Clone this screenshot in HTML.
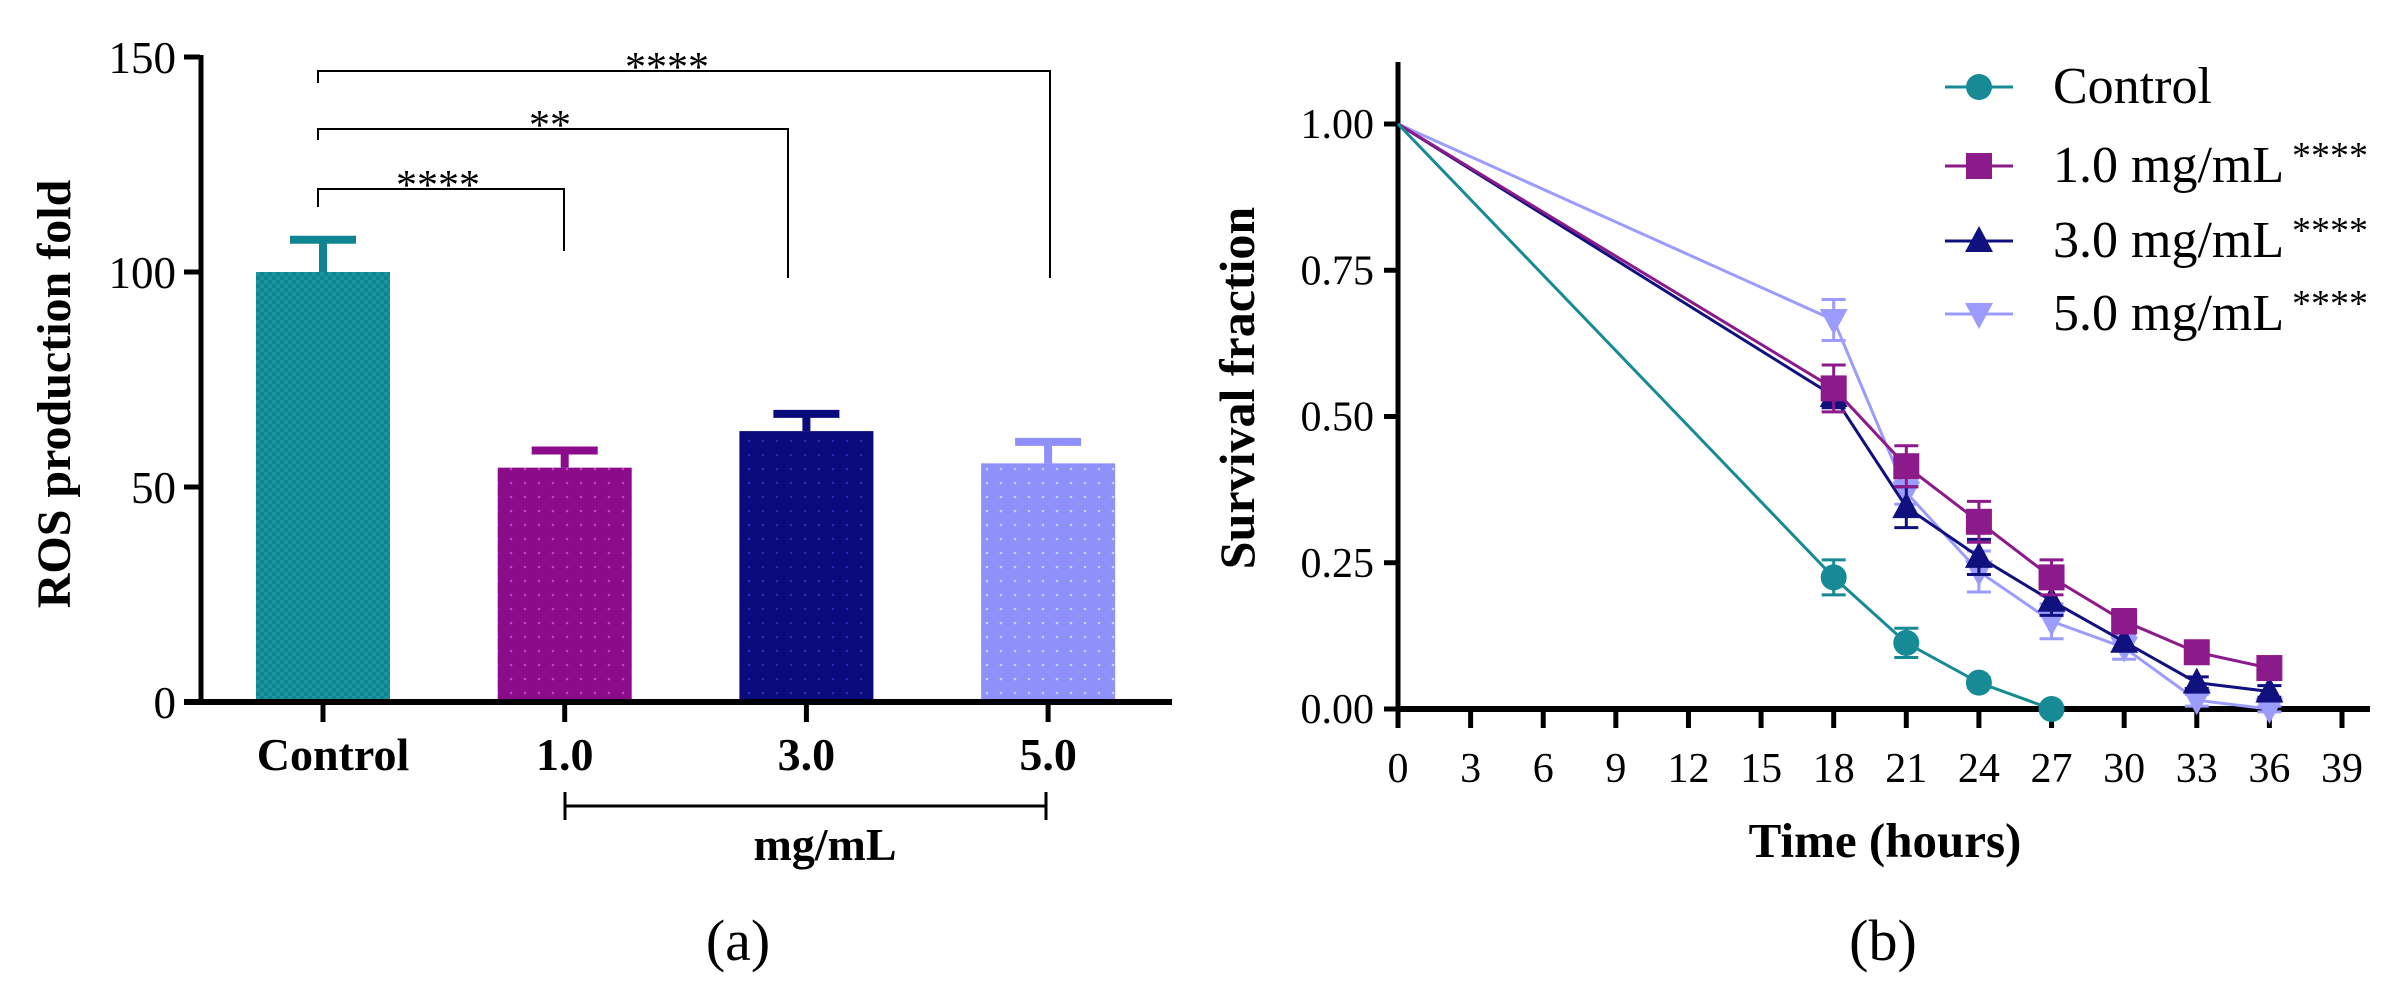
<!DOCTYPE html>
<html><head><meta charset="utf-8"><style>
html,body{margin:0;padding:0;background:#fff;}
svg{display:block;font-family:"Liberation Serif",serif;}
</style></head><body>
<svg id="fig" width="2400" height="992" viewBox="0 0 2400 992">
<defs>
<pattern id="p0" width="8" height="8" patternUnits="userSpaceOnUse"><rect width="8" height="8" fill="#0f8591"/><rect width="4" height="4" fill="#1a95a0"/><rect x="4" y="4" width="4" height="4" fill="#1a95a0"/></pattern>
<pattern id="p1" width="14" height="14" patternUnits="userSpaceOnUse"><rect width="14" height="14" fill="#8b0b8b"/><circle cx="7" cy="7" r="1.3" fill="#c040c8"/></pattern>
<pattern id="p2" width="14" height="14" patternUnits="userSpaceOnUse"><rect width="14" height="14" fill="#0a0a7d"/><circle cx="7" cy="7" r="1.3" fill="#2626b0"/></pattern>
<pattern id="p3" width="14" height="14" patternUnits="userSpaceOnUse"><rect width="14" height="14" fill="#9090fa"/><circle cx="7" cy="7" r="1.3" fill="#b8d8ff"/></pattern>
</defs>
<g id="barChart"></g>
<g id="lineChart"></g>
</svg>
<script>
// Bar chart data
const barCategories = ["Control", "1.0", "3.0", "5.0"];
const barValues = [100, 54.5, 63, 55.5];
const barErrors = [7.5, 4, 4, 5];
const barTicks = [0, 50, 100, 150];
// Line chart data
const timePoints = [0, 18, 21, 24, 27, 30, 33, 36];
const seriesNames = ["Control", "1.0 mg/mL", "3.0 mg/mL", "5.0 mg/mL"];
const seriesStars = ["", "****", "****", "****"];
const controlValues = [1, 0.225, 0.113, 0.045, 0];
const controlErrors = [0, 0.03, 0.025, 0.008, 0];
const dose1Values = [1, 0.548, 0.415, 0.32, 0.225, 0.15, 0.097, 0.07];
const dose1Errors = [0, 0.04, 0.035, 0.035, 0.03, 0.02, 0.01, 0.01];
const dose3Values = [1, 0.535, 0.345, 0.26, 0.185, 0.115, 0.045, 0.03];
const dose3Errors = [0, 0.02, 0.035, 0.03, 0.025, 0.015, 0.01, 0.01];
const dose5Values = [1, 0.665, 0.37, 0.235, 0.15, 0.105, 0.015, 0.0];
const dose5Errors = [0, 0.035, 0.02, 0.035, 0.03, 0.02, 0.01, 0.005];
const yTicksLine = [0, 0.25, 0.5, 0.75, 1.0];
const xTicksLine = [0,3,6,9,12,15,18,21,24,27,30,33,36,39];

const NS = "http://www.w3.org/2000/svg";
function mk(parent, tag, attrs, text) {
  const e = document.createElementNS(NS, tag);
  for (const k in attrs) e.setAttribute(k, attrs[k]);
  if (text !== undefined) e.textContent = text;
  parent.appendChild(e);
  return e;
}

// ---------- Bar chart ----------
const bc = document.getElementById('barChart');
const bY = v => 702 - v * (645 / 150);
const bX = i => 323 + i * 241.7;
const barFills = ["url(#p0)", "url(#p1)", "url(#p2)", "url(#p3)"];
const barCols = ["#0f8591", "#8b0b8b", "#0a0a7d", "#9090fa"];
barCategories.forEach((c, i) => {
  const x = bX(i);
  let r = mk(bc, 'rect', {x: x - 67, y: bY(barValues[i]), width: 134, height: bY(0) - bY(barValues[i]), fill: barFills[i]});
  
  
  let e = mk(bc, 'path', {d: `M${x},${bY(barValues[i])} V${bY(barValues[i] + barErrors[i])} M${x-33},${bY(barValues[i] + barErrors[i])} H${x+33}`, stroke: barCols[i], 'stroke-width': 8, fill: 'none'});
  
  
  mk(bc, 'line', {x1: x, x2: x, y1: 702, y2: 722, stroke: '#000', 'stroke-width': 5});
  let t = mk(bc, 'text', {x: x + (i === 0 ? 10 : 0), y: 770, 'font-size': 46, 'font-weight': 'bold', 'text-anchor': 'middle'}, c);
  
  
});
barTicks.forEach(v => {
  mk(bc, 'line', {x1: 184, x2: 200, y1: bY(v), y2: bY(v), stroke: '#000', 'stroke-width': 5});
  let t = mk(bc, 'text', {x: 176, y: bY(v) + 16, 'font-size': 45, 'text-anchor': 'end'}, String(v));
  
  
});
mk(bc, 'line', {x1: 201, x2: 201, y1: bY(150) - 2, y2: 704, stroke: '#000', 'stroke-width': 5,  });
mk(bc, 'line', {x1: 184, x2: 1172, y1: 702, y2: 702, stroke: '#000', 'stroke-width': 6,  });
mk(bc, 'text', {x: 0, y: 0, 'font-size': 48, 'font-weight': 'bold', 'text-anchor': 'middle', transform: 'translate(70,394) rotate(-90)',  }, 'ROS production fold');
// significance brackets
[[71, 83, 278, 1050, '****', 667], [129, 140, 278, 788, '**', 550], [189, 207, 251, 564, '****', 438]].forEach(b => {
  mk(bc, 'path', {d: `M318,${b[1]} V${b[0]} H${b[3]} V${b[2]}`, stroke: '#000', 'stroke-width': 2, fill: 'none',  });
  mk(bc, 'text', {x: b[5], y: b[0] + 10, 'font-size': 42, 'text-anchor': 'middle',  }, b[4]);
});
mk(bc, 'path', {d: 'M565,792 V820 M565,806 H1046 M1046,792 V820', stroke: '#000', 'stroke-width': 3, fill: 'none',  });
mk(bc, 'text', {x: 825, y: 860, 'font-size': 46, 'font-weight': 'bold', 'text-anchor': 'middle',  }, 'mg/mL');
mk(bc, 'text', {x: 738, y: 960, 'font-size': 58, 'text-anchor': 'middle',  }, '(a)');

// ---------- Line chart ----------
const lc = document.getElementById('lineChart');
const lX = t => 1398 + t * (944 / 39);
const lY = v => 709 - v * 585;
xTicksLine.forEach(t => {
  mk(lc, 'line', {x1: lX(t), x2: lX(t), y1: 709, y2: 728, stroke: '#000', 'stroke-width': 5});
  let tx = mk(lc, 'text', {x: lX(t), y: 782, 'font-size': 42, 'text-anchor': 'middle'}, String(t));
  
  
});
yTicksLine.forEach(v => {
  mk(lc, 'line', {x1: 1384, x2: 1398, y1: lY(v), y2: lY(v), stroke: '#000', 'stroke-width': 5});
  let tx = mk(lc, 'text', {x: 1374, y: lY(v) + 14, 'font-size': 42, 'text-anchor': 'end'}, v.toFixed(2));
  
  
});
mk(lc, 'line', {x1: 1398, x2: 1398, y1: 62, y2: 711, stroke: '#000', 'stroke-width': 5,  });
mk(lc, 'line', {x1: 1396, x2: 2370, y1: 709, y2: 709, stroke: '#000', 'stroke-width': 6,  });
mk(lc, 'text', {x: 0, y: 0, 'font-size': 50, 'font-weight': 'bold', 'text-anchor': 'middle', transform: 'translate(1254,388) rotate(-90)',  }, 'Survival fraction');
mk(lc, 'text', {x: 1885, y: 857, 'font-size': 49, 'font-weight': 'bold', 'text-anchor': 'middle',  }, 'Time (hours)');
mk(lc, 'text', {x: 1883, y: 960, 'font-size': 58, 'text-anchor': 'middle',  }, '(b)');

const lineCols = ["#168b96", "#8c1a8a", "#10107e", "#9c9cff"];
const shapes = ["circle", "square", "up", "down"];
function marker(g, shape, x, y, col) {
  if (shape === 'circle') return mk(g, 'circle', {cx: x, cy: y, r: 13, fill: col});
  if (shape === 'square') return mk(g, 'rect', {x: x - 13, y: y - 13, width: 26, height: 26, fill: col});
  if (shape === 'up') return mk(g, 'path', {d: `M${x},${y-15} L${x+14},${y+11} L${x-14},${y+11} Z`, fill: col});
  return mk(g, 'path', {d: `M${x},${y+15} L${x+14},${y-11} L${x-14},${y-11} Z`, fill: col});
}
const allVals = [controlValues, dose1Values, dose3Values, dose5Values];
const allErrs = [controlErrors, dose1Errors, dose3Errors, dose5Errors];
[3, 2, 1, 0].forEach(s => {
  const g = mk(lc, 'g', {});
  
  
  const vals = allVals[s], errs = allErrs[s];
  const pts = vals.map((v, i) => lX(timePoints[i]) + ',' + lY(v)).join(' ');
  mk(g, 'polyline', {points: pts, fill: 'none', stroke: lineCols[s], 'stroke-width': 3});
  vals.forEach((v, i) => {
    const x = lX(timePoints[i]);
    if (errs[i] > 0) {
      mk(g, 'path', {d: `M${x},${lY(v - errs[i])} V${lY(v + errs[i])} M${x-12},${lY(v + errs[i])} H${x+12} M${x-12},${lY(v - errs[i])} H${x+12}`, stroke: lineCols[s], 'stroke-width': 3, fill: 'none'});
    }
    if (i > 0) {
      const m = marker(g, shapes[s], x, lY(v), lineCols[s]);
      
      
    }
  });
});
// legend
const legBase = [103, 182, 257, 330];
seriesNames.forEach((n, s) => {
  const g = mk(lc, 'g', {});
  
  
  const cy = legBase[s] - 16;
  mk(g, 'line', {x1: 1945, x2: 2013, y1: cy, y2: cy, stroke: lineCols[s], 'stroke-width': 3});
  marker(g, shapes[s], 1979, cy, lineCols[s]);
  const t = mk(g, 'text', {x: 2053, y: legBase[s], 'font-size': 52}, n);
  if (seriesStars[s]) {
    mk(g, 'text', {x: 2292, y: legBase[s] - 14, 'font-size': 38}, seriesStars[s]);
  }
});
</script>
</body></html>
